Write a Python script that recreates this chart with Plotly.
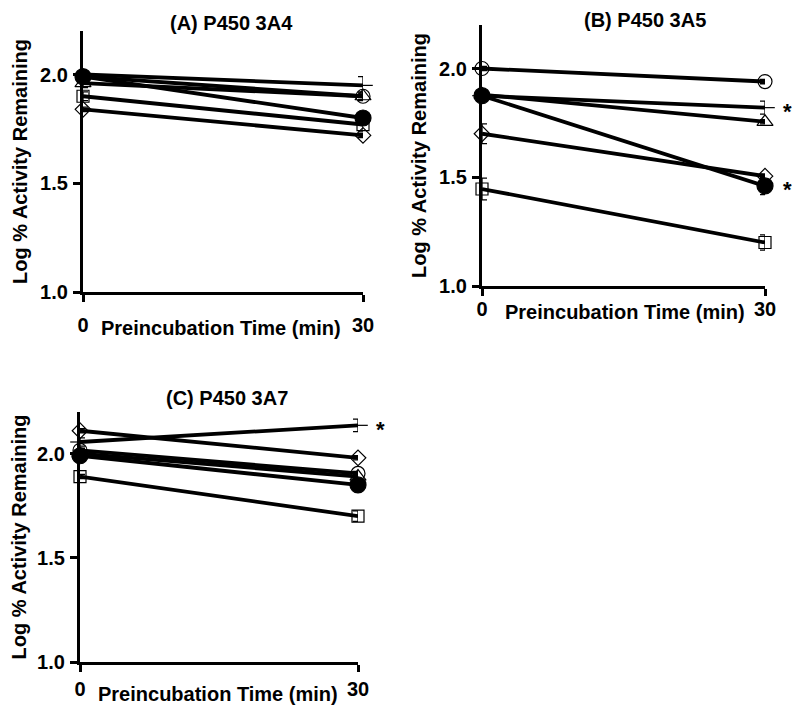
import plotly.graph_objects as go

# preincubation time points (min)
time_min = [0, 30]

panel_titles = ['(A) P450 3A4', '(B) P450 3A5', '(C) P450 3A7']

# marker used for each inhibitor series
series_symbols = ['circle-open', 'triangle-up-open', 'circle', 'line-ew-open', 'square-open', 'diamond-open']
series_sizes = [14, 14, 16, 14, 12, 12]

# Log % activity remaining, one list per series [0 min, 30 min]
a_open_circle = [1.99, 1.90]
a_triangle = [1.96, 1.90]
a_filled_circle = [1.99, 1.80]
a_dash = [2.00, 1.95]
a_square = [1.90, 1.77]
a_diamond = [1.84, 1.72]

a_err_open_circle = [0.01, 0.015]
a_err_triangle = [0.02, 0.02]
a_err_filled_circle = [0.02, 0.02]
a_err_dash = [0.01, 0.04]
a_err_square = [0.02, 0.03]
a_err_diamond = [0.01, 0.01]

b_open_circle = [2.00, 1.94]
b_triangle = [1.88, 1.755]
b_filled_circle = [1.875, 1.46]
b_dash = [1.875, 1.82]
b_square = [1.446, 1.20]
b_diamond = [1.70, 1.505]

b_err_open_circle = [0.01, 0.01]
b_err_triangle = [0.01, 0.01]
b_err_filled_circle = [0.02, 0.04]
b_err_dash = [0.01, 0.03]
b_err_square = [0.05, 0.035]
b_err_diamond = [0.045, 0.01]

c_open_circle = [2.016, 1.905]
c_triangle = [2.00, 1.89]
c_filled_circle = [1.99, 1.85]
c_dash = [2.056, 2.136]
c_square = [1.89, 1.70]
c_diamond = [2.11, 1.98]

c_err_open_circle = [0.01, 0.01]
c_err_triangle = [0.01, 0.01]
c_err_filled_circle = [0.01, 0.01]
c_err_dash = [0.02, 0.03]
c_err_square = [0.01, 0.025]
c_err_diamond = [0.01, 0.01]

panel_values = [
    [a_open_circle, a_triangle, a_filled_circle, a_dash, a_square, a_diamond],
    [b_open_circle, b_triangle, b_filled_circle, b_dash, b_square, b_diamond],
    [c_open_circle, c_triangle, c_filled_circle, c_dash, c_square, c_diamond],
]
panel_errors = [
    [a_err_open_circle, a_err_triangle, a_err_filled_circle, a_err_dash, a_err_square, a_err_diamond],
    [b_err_open_circle, b_err_triangle, b_err_filled_circle, b_err_dash, b_err_square, b_err_diamond],
    [c_err_open_circle, c_err_triangle, c_err_filled_circle, c_err_dash, c_err_square, c_err_diamond],
]

# significant series marked with an asterisk: (panel, series index)
significant = [(1, 3), (1, 2), (2, 3)]

# the page body keeps its default 8px margin, so the figure is drawn 8px in
PAD = 8
W, H = 800 - PAD, 716 - PAD
FONT = dict(family='Arial, Liberation Sans, sans-serif', size=20, color='black', weight='bold')


def px(x):
    return (x - PAD) / W


def py(y):
    return 1 - (y - PAD) / H


# panel boxes in window pixels: left, right, top, bottom
boxes = [(83, 363, 31, 292), (482, 765, 25, 286), (80, 358, 412, 662)]
xlabel_gap = [6, -4, 0]
title_pos = [(231, 23), (645, 20), (227, 398)]
xtitle_pos = [(221, 328), (625, 312), (218, 694)]
ymin, ymax = 1.0, 2.2

fig = go.Figure()

for p in range(3):
    ax = '' if p == 0 else str(p + 1)
    for s in range(6):
        fig.add_trace(go.Scatter(
            x=time_min,
            y=panel_values[p][s],
            mode='lines+markers',
            xaxis='x' + ax,
            yaxis='y' + ax,
            line=dict(color='black', width=3.8),
            marker=dict(symbol=series_symbols[s], size=series_sizes[s], color='black',
                        line=dict(color='black', width=1.2)),
            error_y=dict(type='data', array=panel_errors[p][s], color='black', thickness=1.3, width=5),
            cliponaxis=False,
            showlegend=False,
        ))

    left, right, top, bottom = boxes[p]
    fig.layout['xaxis' + ax] = dict(
        domain=[px(left), px(right)], range=[0, 30], tickvals=time_min, anchor='y' + ax,
        automargin=False, showline=True, linewidth=3.2, linecolor='black', ticks='outside',
        ticklen=7, tickwidth=3, tickcolor='black', showgrid=False, zeroline=False,
        tickfont=FONT, ticklabelstandoff=xlabel_gap[p],
    )
    fig.layout['yaxis' + ax] = dict(
        domain=[py(bottom), py(top)], range=[ymin, ymax], tickvals=[1.0, 1.5, 2.0],
        tickformat='.1f', anchor='x' + ax, automargin=False, showline=True, linewidth=3.2,
        linecolor='black', ticks='outside', ticklen=7, tickwidth=3, tickcolor='black',
        showgrid=False, zeroline=False, tickfont=FONT, ticklabelstandoff=1,
        title=dict(text='Log % Activity Remaining', font=FONT, standoff=8),
    )

    tx, ty = title_pos[p]
    fig.add_annotation(text=panel_titles[p], x=px(tx), y=py(ty), xref='paper', yref='paper',
                       showarrow=False, font=FONT, xanchor='center', yanchor='middle',
                       borderpad=0)
    tx, ty = xtitle_pos[p]
    fig.add_annotation(text='Preincubation Time (min)', x=px(tx), y=py(ty), xref='paper',
                       yref='paper', showarrow=False, font=FONT, xanchor='center', yanchor='middle')

# asterisks sit just right of the 30 min point; placed in paper space so they are not clipped
for p, s in significant:
    left, right, top, bottom = boxes[p]
    val = panel_values[p][s][1]
    frac = (val - ymin) / (ymax - ymin)
    ypix = bottom - frac * (bottom - top)
    fig.add_annotation(text='*', x=px(right + 22), y=py(ypix), xref='paper', yref='paper',
                       showarrow=False, font=dict(FONT, size=22), xanchor='center',
                       yanchor='middle', yshift=-4)

fig.update_layout(
    width=W, height=H,
    margin=dict(l=0, r=0, t=0, b=0),
    paper_bgcolor='white', plot_bgcolor='white',
)

fig.write_html('out.html')
